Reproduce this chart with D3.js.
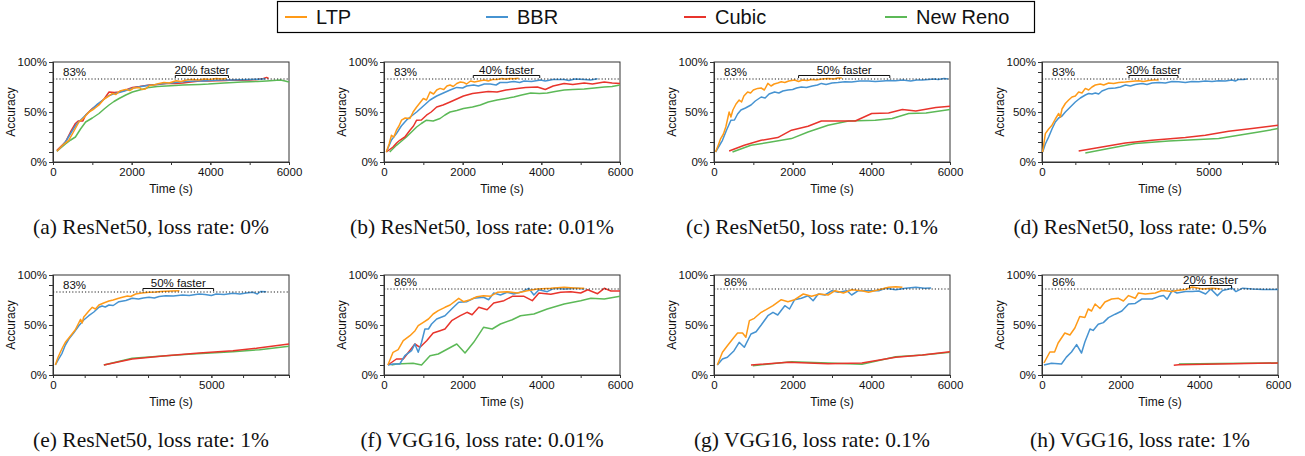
<!DOCTYPE html>
<html>
<head>
<meta charset="utf-8">
<script src="https://cdn.jsdelivr.net/npm/d3@7"></script>
<style>
  body { margin: 0; background: #fff; }
  svg { display: block; font-family: "Liberation Sans", Arial, sans-serif; }
  .axis path, .axis line { stroke: #333; }
  .axis text { font-size: 11.5px; fill: #111; }
</style>
</head>
<body>
<div class="chart"></div>
<script>
const seriesNames = ['LTP', 'BBR', 'Cubic', 'New Reno']
const seriesColors = ['#ff9a17', '#4693d1', '#e8342c', '#5cb957']

const captions = [
  '(a) ResNet50, loss rate: 0%', '(b) ResNet50, loss rate: 0.01%', '(c) ResNet50, loss rate: 0.1%', '(d) ResNet50, loss rate: 0.5%',
  '(e) ResNet50, loss rate: 1%', '(f) VGG16, loss rate: 0.01%', '(g) VGG16, loss rate: 0.1%', '(h) VGG16, loss rate: 1%'
]
const xMaxes = [6000, 6000, 6000, 7080, 7450, 6000, 6000, 6000]
const xTickLabels = [
  [0, 2000, 4000, 6000], [0, 2000, 4000, 6000], [0, 2000, 4000, 6000], [0, 5000],
  [0, 5000], [0, 2000, 4000, 6000], [0, 2000, 4000, 6000], [0, 2000, 4000, 6000]
]
const yTickLabels = [0, 50, 100]
const targets = [83, 83, 83, 83, 83, 86, 86, 86]
const fasterText = ['20% faster', '40% faster', '50% faster', '30% faster', '50% faster', null, null, '20% faster']
const fasterSpan = [[3110, 4460], [2270, 3960], [2150, 4470], [2610, 4080], [2840, 5070], null, null, [3750, 4820]]

// (a) ResNet50, 0%
const ltpA = [[100,10.7],[250,17],[400,21.7],[520,30],[660,40],[780,44],[915,50],[1040,53],[1170,57],[1300,63],[1420,66],[1510,68.6],[1600,67.5],[1700,71],[1850,72.6],[1950,71.5],[2050,74],[2190,74.6],[2260,72.5],[2350,73],[2450,76.5],[2560,77],[2700,78.6],[2820,79.5],[2950,79],[3130,81.3],[3250,80.5],[3400,82],[3560,82.6],[3700,82],[3850,83],[3980,82.6],[4150,83.5],[4300,83],[4400,83.6]]
const bbrA = [[100,10.7],[230,16],[350,22],[470,30],[600,38],[730,43],[860,48],[1000,53],[1130,58],[1270,62],[1400,66],[1530,68],[1680,69.5],[1820,71],[1960,73],[2100,74.5],[2250,75.5],[2400,76.5],[2550,77],[2700,78],[2850,78.5],[3000,79],[3200,80],[3400,80.5],[3600,81],[3800,81],[4000,81.5],[4250,82],[4500,82],[4750,82.2],[5000,82.5],[5250,82.8],[5400,83.2]]
const cubicA = [[100,11.7],[316,20],[445,30],[570,38.5],[640,41],[760,41],[830,47],[1000,53.5],[1170,58.5],[1300,63],[1425,70],[1560,69.5],[1680,70],[1850,72],[2020,74.6],[2200,75.5],[2450,77],[2650,77.5],[2875,78.6],[3100,78.5],[3300,79],[3500,80],[3730,81],[3950,81],[4150,81.3],[4400,81.5],[4580,82],[4800,81.7],[5000,82],[5200,82.5],[5350,83.6],[5430,84.6],[5480,83.5]]
const renoA = [[100,10.7],[316,18],[450,22],[570,25],[700,33],[830,40],[1000,44],[1170,48.5],[1300,53],[1425,57],[1550,60.5],[1680,63.5],[1850,67],[2020,70],[2250,72.5],[2450,74.6],[2650,75.5],[2875,76],[3100,76.5],[3300,77],[3500,77.3],[3730,77.6],[3950,78],[4150,78.6],[4350,79],[4580,79.6],[4800,80],[5000,80.3],[5200,80.5],[5430,81],[5600,81.5],[5780,82],[5900,81],[6000,80]]

// (b) ResNet50, 0.01%
const ltpB = [[60,10],[130,18],[190,26.7],[250,25],[316,31.8],[380,36],[445,41.8],[540,44],[660,43.5],[740,50],[830,55],[910,59],[1000,63.5],[1080,62],[1170,70],[1260,68],[1340,72],[1425,73.6],[1520,72.5],[1600,76],[1680,77],[1760,75.5],[1850,78.5],[1940,80],[2020,79.6],[2100,78],[2200,81],[2300,80],[2450,81.3],[2550,82],[2650,81],[2760,82.5],[2875,82.6],[3000,83.5],[3100,82.8],[3200,83.6],[3300,83.3],[3420,83.8]]
const bbrB = [[60,10],[190,22],[316,28.4],[440,36],[570,41.8],[700,46],[830,50],[1000,56],[1170,62],[1340,66],[1510,69],[1680,72],[1850,74.6],[2000,74],[2100,76],[2280,77],[2400,76],[2550,78],[2700,78],[2850,77],[2950,79.5],[3130,79.6],[3300,80.5],[3450,79.5],[3560,81],[3750,80.5],[3980,82],[4100,81],[4300,82.5],[4580,82.6],[4700,81.5],[4850,83],[5090,82.6],[5250,82],[5430,83.3]]
const cubicB = [[60,10],[230,15],[320,19],[400,21.7],[530,25],[660,31.8],[750,36],[830,41.8],[950,42],[1080,46.8],[1200,50],[1340,55],[1500,57],[1680,60],[1850,63],[2020,66],[2250,68.5],[2450,69.6],[2650,70.5],[2875,70],[3100,72],[3390,73.6],[3600,74.5],[3900,75],[4100,72.5],[4300,76],[4580,78.6],[4800,77.5],[5090,79],[5300,78],[5600,80],[5800,79],[6000,78.6]]
const renoB = [[145,10],[316,16.7],[450,21],[570,25],[700,30],[830,35],[950,38.5],[1080,41.8],[1250,41],[1425,43.5],[1550,47],[1680,50],[1850,51.5],[2020,53.5],[2250,55],[2450,57],[2650,60],[2875,62],[3100,63.5],[3300,65],[3500,67],[3730,69],[3950,68.5],[4150,69],[4350,70.5],[4580,72],[4800,72.5],[5090,73],[5350,74],[5600,75],[5800,75.5],[6000,77]]

// (c) ResNet50, 0.1%
const ltpC = [[40,10],[110,17],[170,23.4],[240,28],[300,35],[340,42],[385,50],[430,45],[480,52],[560,58],[640,62],[700,60],[760,66],[855,70],[930,69],[1000,72],[1110,73.6],[1200,74],[1280,72],[1370,78.6],[1450,76],[1530,78],[1620,79],[1710,80.3],[1800,79.5],[1900,81],[2050,82],[2150,80.5],[2250,82],[2370,81.5],[2480,82.6],[2600,82],[2750,83],[2900,83.6],[3050,83],[3150,84],[3250,84]]
const bbrC = [[40,10],[130,16],[215,21.7],[320,32],[430,41.8],[520,42],[600,48],[685,52],[800,54],[940,57],[1050,61],[1200,65],[1300,64],[1400,68],[1540,70],[1650,69],[1750,71],[1880,72],[2000,72.5],[2100,74],[2220,75],[2350,74.5],[2500,76],[2630,77],[2730,78.6],[2850,77.5],[3000,79],[3150,79.5],[3330,80.3],[3500,80],[3700,81],[3930,81],[4100,80.5],[4300,81],[4450,81.5],[4610,81.3],[4800,82],[5000,81],[5150,82],[5300,82],[5450,82.5],[5600,83],[5700,82.5],[5850,83.6],[5950,83]]
const cubicC = [[385,11],[770,16.7],[1200,21.7],[1620,24.4],[1970,31.8],[2390,35.8],[2730,41],[3590,41],[4010,48.5],[4440,49],[4790,52.5],[5130,51],[5640,54.5],[6000,55.8]]
const renoC = [[470,10],[940,16.7],[1450,20],[1970,23.4],[2390,30],[2900,36.8],[3420,41],[4100,41.8],[4530,43.5],[4950,48.5],[5390,49],[6000,52.5]]

// (d) ResNet50, 0.5%
const ltpD = [[20,10],[100,28.4],[200,33],[300,36.8],[400,43],[500,48.5],[550,45],[600,53],[700,58.5],[800,62],[900,65],[1000,66],[1100,70],[1200,69],[1300,73.6],[1400,72],[1500,75],[1600,77],[1750,78],[1850,77],[2000,79],[2150,78.5],[2300,79.5],[2500,80],[2650,80.5],[2800,81],[2900,81.3],[3050,80.5],[3200,81.5],[3350,82],[3500,82]]
const bbrD = [[20,10],[100,18],[200,25],[300,33],[400,40],[500,44],[600,46],[700,50],[850,55],[1000,60],[1150,64],[1300,67],[1400,68.5],[1500,68],[1600,69],[1700,68],[1800,71],[2000,73.6],[2200,74],[2350,75],[2500,77],[2650,76],[2800,77.5],[3000,78.6],[3150,77.5],[3300,79],[3500,79.6],[3700,79],[3900,80.5],[4100,80.3],[4300,79.5],[4500,80.5],[4700,80.3],[4900,81],[5100,80.5],[5300,81.3],[5500,81],[5700,82],[5800,81],[5900,82.6],[6050,82.5],[6150,83]]
const cubicD = [[1100,11],[1800,15],[2500,19],[3300,21.7],[4300,24.4],[4900,26.8],[5600,30.8],[6300,33.4],[7080,36.8]]
const renoD = [[1300,9],[2000,13.4],[2800,18.4],[3800,21],[4700,22.4],[5300,23.4],[5900,26.8],[6500,30],[7080,33.4]]

// (e) ResNet50, 1%
const ltpE = [[75,10],[150,17],[230,22.7],[310,28],[390,32.7],[500,37],[600,41],[700,45],[780,50],[870,55.6],[920,52],[970,58],[1025,60],[1130,64],[1240,67.7],[1340,66],[1450,70],[1600,72],[1765,74],[1900,75],[2050,76.5],[2190,77.7],[2350,79],[2450,78.5],[2610,81],[2800,82],[3030,82.7],[3250,83],[3400,83.5],[3560,83.7],[3750,84],[3990,84.3]]
const bbrE = [[75,10],[180,16],[285,21.7],[390,30],[500,36],[650,42],[815,49.3],[970,55],[1130,59.3],[1290,63],[1450,67.7],[1550,69],[1650,68],[1765,70],[1900,69.5],[2080,73.3],[2300,74.5],[2500,76.7],[2700,76],[2850,77],[3030,77.7],[3200,77],[3350,78.5],[3560,79.3],[3800,79],[4090,80],[4300,79.5],[4500,80.5],[4620,81],[4800,80.5],[5000,79.5],[5150,81],[5400,80.5],[5680,81.7],[5900,81],[6100,82],[6310,82.7],[6450,81],[6550,83.5],[6730,83.3]]
const cubicE = [[1605,10],[2500,16],[3560,19.3],[4620,22],[5680,24.3],[6420,26.7],[7450,31]]
const renoE = [[1605,10],[2500,16.7],[3350,18.7],[4400,21],[5680,23.3],[6520,25.3],[7450,28.7]]

// (f) VGG16, 0.01%
const ltpF = [[100,10],[230,22.7],[360,25.3],[490,34.3],[660,39.3],[790,44.3],[870,49.3],[1000,52.7],[1130,56],[1250,61],[1380,64.3],[1550,67.7],[1680,70],[1900,76.7],[2020,73.3],[2190,75.3],[2360,78.3],[2530,79.3],[2700,78.7],[2880,82.7],[3130,83.3],[3390,82],[3640,84.3],[3900,86],[4240,86.7],[4580,87.7],[4920,86.7],[5090,86.7]]
const bbrF = [[100,10],[230,11],[400,11],[530,19.3],[700,24.3],[785,31],[870,22.7],[955,32.7],[1040,46],[1130,46],[1210,51],[1340,56],[1550,59.3],[1720,66],[1900,72.7],[2110,73.3],[2280,76.7],[2530,77.7],[2660,75.3],[2790,82],[2960,80],[3130,82.7],[3300,81],[3510,83.3],[3680,86.7],[3810,80],[3940,85.3],[4150,83.3],[4320,86.7],[4580,86],[4920,86.7],[5090,86]]
const cubicF = [[100,10],[316,16],[490,16],[785,31],[915,27.7],[1085,34.3],[1250,42],[1425,44.3],[1550,46],[1720,54.3],[1940,59.3],[2110,62.7],[2240,60.3],[2410,67.7],[2620,65.3],[2790,72],[3050,74.3],[3260,78.7],[3560,78.7],[3770,74.3],[3940,82],[4240,80.7],[4490,82.7],[4750,83.3],[5000,82],[5180,85.3],[5430,81.3],[5600,86.7],[5770,84],[6000,84]]
const renoF = [[190,10],[316,11],[740,11.7],[955,10],[1170,19.3],[1380,21],[1850,31],[2060,22],[2280,32.7],[2530,47.7],[2750,46],[2960,51],[3260,55.3],[3470,59.3],[3810,61],[4150,66],[4580,71],[5000,74.3],[5260,76.7],[5600,76],[6000,78.7]]

// (g) VGG16, 0.1%
const ltpG = [[85,10],[215,22.7],[340,29.3],[510,37.7],[600,42],[725,42],[810,37.7],[900,54.3],[1025,56.7],[1200,62.7],[1325,65.3],[1500,69.3],[1710,75.3],[1880,73.3],[2050,75.3],[2270,81],[2480,78.7],[2690,81],[2900,80],[3080,84.3],[3290,82],[3500,85.3],[3760,84.3],[3930,82.7],[4190,85.3],[4440,87.7],[4620,88.3],[4790,87.7]]
const bbrG = [[85,10],[215,16],[340,17.7],[510,24.3],[640,32.7],[770,27.7],[940,41],[1070,43.3],[1200,50],[1370,59.3],[1500,62.7],[1620,60],[1800,69.3],[1920,66],[2050,75.3],[2220,76.7],[2390,79.3],[2520,74.3],[2650,81],[2820,80],[3000,84.3],[3160,82.7],[3380,84.3],[3500,80],[3670,84.3],[3930,84.3],[4190,84.3],[4360,86.7],[4620,85.3],[4870,86.7],[5130,87.7],[5350,86.7],[5520,87]]
const cubicG = [[940,10],[1880,12.7],[2900,11.3],[3760,12],[4620,17.7],[5300,20],[6000,23.3]]
const renoG = [[985,9.3],[1970,13.3],[2900,12],[3760,10.7],[4620,18.3],[5300,20],[6000,22.7]]

// (h) VGG16, 1%
const ltpH = [[50,12],[200,23],[320,23],[410,32],[580,42],[710,40],[835,47],[960,58.5],[1090,57.5],[1175,66],[1260,64],[1350,71],[1475,66.5],[1600,73],[1770,76],[1945,76.7],[2070,74],[2200,79.4],[2370,76.7],[2450,82],[2625,81],[2880,82],[3050,84.5],[3310,83.4],[3430,84.5],[3650,85.5],[3820,88],[4075,86],[4330,86.8],[4545,86]]
const bbrH = [[50,10],[240,11.8],[495,11],[620,17.9],[750,23],[880,30.4],[1005,22],[1090,33],[1220,46],[1300,44.6],[1430,50.7],[1560,52.4],[1690,57.4],[1860,60.8],[2030,64],[2200,71],[2370,71.6],[2540,76],[2800,76],[2965,78.4],[3090,79.4],[3180,75.7],[3310,84.5],[3430,82],[3650,83.4],[3820,83.4],[3990,84],[4160,81],[4290,86],[4460,79.4],[4590,84.5],[4840,86.8],[4930,83.4],[5100,86.8],[5350,86],[5610,85.5],[6000,85.5]]
const cubicH = [[3350,9.8],[3480,10.2],[4500,11],[6000,12]]
const renoH = [[3480,11],[4500,11.5],[6000,12]]

const panelData = [
  [ltpA, bbrA, cubicA, renoA], [ltpB, bbrB, cubicB, renoB], [ltpC, bbrC, cubicC, renoC], [ltpD, bbrD, cubicD, renoD],
  [ltpE, bbrE, cubicE, renoE], [ltpF, bbrF, cubicF, renoF], [ltpG, bbrG, cubicG, renoG], [ltpH, bbrH, cubicH, renoH]
]

const width = 1305, height = 456
const colLeft = [53, 384, 714, 1042]
const rowTop = [62, 275]
const pw = 236, ph = 100

const svg = d3.select('.chart').append('svg').attr('width', width).attr('height', height)

// legend
const legend = svg.append('g')
legend.append('rect').attr('x', 277.5).attr('y', 1.5).attr('width', 757).attr('height', 31)
  .attr('fill', 'none').attr('stroke', '#000').attr('stroke-width', 1.2)
const legX = [285, 486, 684, 885]
seriesNames.forEach((name, i) => {
  legend.append('line').attr('x1', legX[i]).attr('x2', legX[i] + 22).attr('y1', 17).attr('y2', 17)
    .attr('stroke', seriesColors[i]).attr('stroke-width', 2)
  legend.append('text').attr('x', legX[i] + 31).attr('y', 24).text(name)
    .style('font-size', '20px').attr('fill', '#111')
})

panelData.forEach((lines, p) => {
  const left = colLeft[p % 4], top = rowTop[Math.floor(p / 4)]
  const g = svg.append('g').attr('transform', 'translate(' + left + ',' + top + ')')

  const x = d3.scaleLinear().domain([0, xMaxes[p]]).range([0, pw])
  const y = d3.scaleLinear().domain([0, 100]).range([ph, 0])

  // minor ticks every 1000 s / 10 %
  g.append('g').attr('class', 'axis').attr('transform', 'translate(0,' + ph + ')')
    .call(d3.axisBottom(x).tickValues(d3.range(0, xMaxes[p] + 1, 1000)).tickSize(3).tickFormat(''))
  g.append('g').attr('class', 'axis').attr('transform', 'translate(0,' + ph + ')')
    .call(d3.axisBottom(x).tickValues(xTickLabels[p]).tickSize(3).tickPadding(3).tickFormat(d3.format('d')))
  g.append('g').attr('class', 'axis')
    .call(d3.axisLeft(y).tickValues(d3.range(0, 101, 10)).tickSize(4).tickFormat(''))
  g.append('g').attr('class', 'axis')
    .call(d3.axisLeft(y).tickValues(yTickLabels).tickSize(4).tickPadding(2).tickFormat(d => d + '%'))

  g.append('rect').attr('width', pw).attr('height', ph).attr('fill', 'none').attr('stroke', '#333').attr('stroke-width', 1)

  g.append('text').attr('transform', 'translate(-38,' + ph / 2 + ') rotate(-90)')
    .attr('text-anchor', 'middle').style('font-size', '12px').attr('fill', '#111').text('Accuracy')
  g.append('text').attr('x', pw / 2).attr('y', ph + 31)
    .attr('text-anchor', 'middle').style('font-size', '12px').attr('fill', '#111').text('Time (s)')

  const line = d3.line().x(d => x(d[0])).y(d => y(d[1]))
  // draw New Reno first so LTP sits on top
  for (let s = 3; s >= 0; s--) {
    g.append('path').datum(lines[s]).attr('d', line)
      .attr('fill', 'none').attr('stroke', seriesColors[s]).attr('stroke-width', 1.5)
      .attr('stroke-linejoin', 'round')
  }

  const yT = y(targets[p])
  g.append('line').attr('x1', 0).attr('x2', pw).attr('y1', yT).attr('y2', yT)
    .attr('stroke', '#222').attr('stroke-width', 1.2).attr('stroke-dasharray', '1.2,2')
  g.append('text').attr('x', 10).attr('y', yT - 3).style('font-size', '11.5px').attr('fill', '#111')
    .text(targets[p] + '%')

  if (fasterText[p]) {
    const x1 = x(fasterSpan[p][0]), x2 = x(fasterSpan[p][1])
    const yb = yT - 3.5
    g.append('path').attr('d', 'M' + x1 + ',' + (yT - 1) + 'V' + yb + 'H' + x2 + 'V' + (yT - 1))
      .attr('fill', 'none').attr('stroke', '#111').attr('stroke-width', 1)
    g.append('text').attr('x', (x1 + x2) / 2).attr('y', yb - 2).attr('text-anchor', 'middle')
      .style('font-size', '11.5px').attr('fill', '#111').text(fasterText[p])
  }

  svg.append('text').attr('x', left + pw / 2 - 20).attr('y', top + 172)
    .attr('text-anchor', 'middle').style('font-family', '"Liberation Serif", "Times New Roman", serif')
    .style('font-size', '21.5px').attr('fill', '#111').text(captions[p])
})
</script>
</body>
</html>
